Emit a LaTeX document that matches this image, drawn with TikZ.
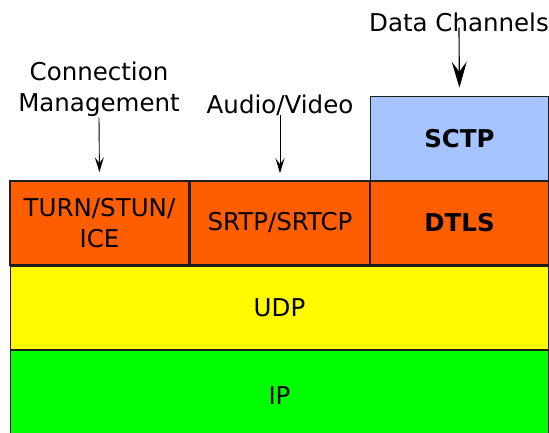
\documentclass[tikz,border=0pt]{standalone}
\usepackage{fontspec}
\setmainfont{DejaVu Sans}
\usetikzlibrary{arrows.meta}
\definecolor{orangelayer}{RGB}{255,94,0}
\definecolor{yellowlayer}{RGB}{255,250,0}
\definecolor{greenlayer}{RGB}{0,255,0}
\definecolor{bluelayer}{RGB}{166,196,255}
\definecolor{edge}{RGB}{30,30,30}
\tikzset{
  layer/.style={draw=edge, line width=1.6pt, inner sep=0pt, align=center,
    font=\fontsize{24.5}{31}\selectfont},
  caption/.style={inner sep=0pt, align=center, font=\fontsize{24.5}{31}\selectfont},
  bigarrow/.style={line width=1.1pt, -{Stealth[length=26pt, width=15pt, inset=10pt]}},
  smallarrow/.style={line width=0.9pt, -{Stealth[length=15pt, width=9pt, inset=6pt]}}
}
\begin{document}
\begin{tikzpicture}[x=1pt, y=1pt]
\useasboundingbox (0,0) rectangle (549,-432);
% protocol layers
\node[layer, fill=greenlayer, minimum width=538pt, minimum height=90pt] (ip) at (279.5,-395.5) {IP};
\node[layer, fill=yellowlayer, minimum width=538pt, minimum height=84pt] (udp) at (279.5,-308) {UDP};
\node[layer, fill=orangelayer, minimum width=179pt, minimum height=84pt] (turn) at (99.5,-223) {TURN/STUN/\\ICE};
\node[layer, fill=orangelayer, minimum width=179pt, minimum height=84pt] (srtp) at (280,-223) {SRTP/SRTCP};
\node[layer, fill=orangelayer, minimum width=178pt, minimum height=84pt, font=\fontsize{24.5}{31}\selectfont\bfseries] (dtls) at (459.5,-223) {DTLS};
\node[layer, fill=bluelayer, minimum width=178pt, minimum height=84pt, font=\fontsize{24.5}{31}\selectfont\bfseries] (sctp) at (459.5,-138.5) {SCTP};
% application labels
\node[caption] (conn) at (99,-89) {Connection\\Management};
\node[caption, anchor=base] (av) at (280,-113) {Audio/Video};
\node[caption, anchor=base] (dc) at (459,-31) {Data Channels};
% arrows into the stack
\draw[smallarrow, shorten <=1pt, shorten >=8pt] (conn.south) -- (turn.north);
\draw[smallarrow, shorten >=7pt] (av.south) -- (srtp.north);
\draw[bigarrow, shorten <=-4pt, shorten >=8pt] (dc.south) -- (sctp.north);
\end{tikzpicture}
\end{document}
